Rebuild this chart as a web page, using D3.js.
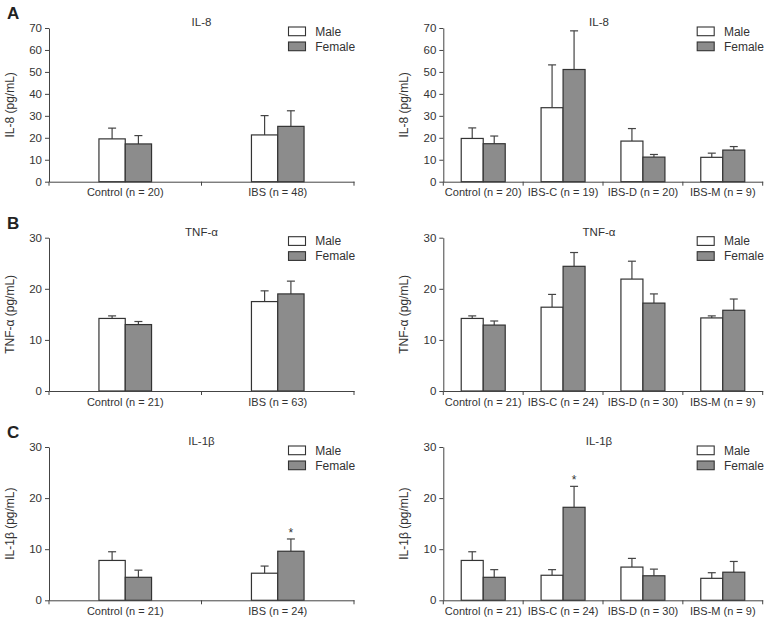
<!DOCTYPE html>
<html>
<head>
<meta charset="utf-8">
<script src="https://cdn.jsdelivr.net/npm/d3@7"></script>
<style>
body { margin: 0; background: #fff; }
svg text { font-family: "Liberation Sans", Arial, Helvetica, sans-serif; fill: #333; }
</style>
</head>
<body>
<div id="chart"></div>
<script>

// ---- data (mean and SEM) ----
var sexes = ["Male", "Female"];

// groups
var groupsIL8Left = ["Control (n = 20)", "IBS (n = 48)"];
var groupsIL8Right = ["Control (n = 20)", "IBS-C (n = 19)", "IBS-D (n = 20)", "IBS-M (n = 9)"];
var groupsTNFLeft = ["Control (n = 21)", "IBS (n = 63)"];
var groupsTNFRight = ["Control (n = 21)", "IBS-C (n = 24)", "IBS-D (n = 30)", "IBS-M (n = 9)"];
var groupsIL1Left = ["Control (n = 21)", "IBS (n = 24)"];
var groupsIL1Right = ["Control (n = 21)", "IBS-C (n = 24)", "IBS-D (n = 30)", "IBS-M (n = 9)"];

// A - IL-8
var il8MaleLeft = [19.5, 21.3];
var il8MaleLeftSem = [4.9, 8.8];
var il8FemaleLeft = [17.2, 25.2];
var il8FemaleLeftSem = [3.8, 7.1];

var il8MaleRight = [19.7, 33.7, 18.5, 11.1];
var il8MaleRightSem = [4.8, 19.5, 5.7, 1.9];
var il8FemaleRight = [17.3, 51.1, 11.2, 14.4];
var il8FemaleRightSem = [3.5, 17.6, 1.2, 1.6];

// B - TNF-alpha
var tnfMaleLeft = [14.2, 17.5];
var tnfMaleLeftSem = [0.5, 2.1];
var tnfFemaleLeft = [13.0, 19.0];
var tnfFemaleLeftSem = [0.6, 2.5];

var tnfMaleRight = [14.2, 16.4, 21.9, 14.3];
var tnfMaleRightSem = [0.5, 2.5, 3.5, 0.4];
var tnfFemaleRight = [12.9, 24.4, 17.2, 15.8];
var tnfFemaleRightSem = [0.8, 2.7, 1.8, 2.2];

// C - IL-1beta
var il1MaleLeft = [7.8, 5.3];
var il1MaleLeftSem = [1.7, 1.4];
var il1FemaleLeft = [4.5, 9.6];
var il1FemaleLeftSem = [1.4, 2.4];
var il1SigLeft = [null, "Female"];

var il1MaleRight = [7.8, 4.9, 6.5, 4.3];
var il1MaleRightSem = [1.7, 1.1, 1.7, 1.1];
var il1FemaleRight = [4.5, 18.2, 4.8, 5.5];
var il1FemaleRightSem = [1.5, 4.1, 1.3, 2.1];
var il1SigRight = [null, "Female", null, null];

var ticksIL8 = [0, 10, 20, 30, 40, 50, 60, 70];
var ticks30 = [0, 10, 20, 30];

function rows(groups, m, ms, f, fs, sig) {
	return groups.map(function(g, i) {
		return {
			group: g,
			values: [
				{sex: "Male", mean: m[i], sem: ms[i], star: sig && sig[i] === "Male"},
				{sex: "Female", mean: f[i], sem: fs[i], star: sig && sig[i] === "Female"}
			]
		};
	});
}

var svg = d3.select("#chart")
	.append("svg")
	.attr("width", 770)
	.attr("height", 626);

var leftX = [49, 354], rightX = [443.3, 762.7];

var panels = [
	{letter: "A", title: "IL-8", ylab: "IL-8 (pg/mL)", yMax: 70, ticks: ticksIL8, xr: leftX, top: 28, bottom: 181.7, barW: 26.3,
		data: rows(groupsIL8Left, il8MaleLeft, il8MaleLeftSem, il8FemaleLeft, il8FemaleLeftSem)},
	{title: "IL-8", ylab: "IL-8 (pg/mL)", yMax: 70, ticks: ticksIL8, xr: rightX, top: 28, bottom: 181.7, barW: 22,
		data: rows(groupsIL8Right, il8MaleRight, il8MaleRightSem, il8FemaleRight, il8FemaleRightSem)},
	{letter: "B", title: "TNF-\u03b1", ylab: "TNF-\u03b1 (pg/mL)", yMax: 30, ticks: ticks30, xr: leftX, top: 237.7, bottom: 391, barW: 26.3,
		data: rows(groupsTNFLeft, tnfMaleLeft, tnfMaleLeftSem, tnfFemaleLeft, tnfFemaleLeftSem)},
	{title: "TNF-\u03b1", ylab: "TNF-\u03b1 (pg/mL)", yMax: 30, ticks: ticks30, xr: rightX, top: 237.7, bottom: 391, barW: 22,
		data: rows(groupsTNFRight, tnfMaleRight, tnfMaleRightSem, tnfFemaleRight, tnfFemaleRightSem)},
	{letter: "C", title: "IL-1\u03b2", ylab: "IL-1\u03b2 (pg/mL)", yMax: 30, ticks: ticks30, xr: leftX, top: 447, bottom: 600.3, barW: 26.3,
		data: rows(groupsIL1Left, il1MaleLeft, il1MaleLeftSem, il1FemaleLeft, il1FemaleLeftSem, il1SigLeft)},
	{title: "IL-1\u03b2", ylab: "IL-1\u03b2 (pg/mL)", yMax: 30, ticks: ticks30, xr: rightX, top: 447, bottom: 600.3, barW: 22,
		data: rows(groupsIL1Right, il1MaleRight, il1MaleRightSem, il1FemaleRight, il1FemaleRightSem, il1SigRight)}
];

var fill = {Male: "#ffffff", Female: "#8c8c8c"};

panels.forEach(drawPanel);

function drawPanel(p) {
	var g = svg.append("g");

	var x0 = d3.scaleBand()
		.domain(p.data.map(function(d) { return d.group; }))
		.range(p.xr);

	var x1 = d3.scaleBand()
		.domain(sexes)
		.range([0, x0.bandwidth()])
		.paddingOuter((x0.bandwidth() / p.barW - 2) / 2);

	var y = d3.scaleLinear()
		.domain([0, p.yMax])
		.range([p.bottom, p.top]);

	// bars
	var grp = g.selectAll(".grp")
			.data(p.data)
		.enter()
			.append("g")
			.attr("transform", function(d) { return "translate(" + x0(d.group) + ",0)"; });

	var cell = grp.selectAll(".cell")
			.data(function(d) { return d.values; })
		.enter()
			.append("g");

	// error bars (upper only)
	cell.append("line")
		.attr("x1", function(d) { return x1(d.sex) + x1.bandwidth() / 2; })
		.attr("x2", function(d) { return x1(d.sex) + x1.bandwidth() / 2; })
		.attr("y1", function(d) { return y(d.mean); })
		.attr("y2", function(d) { return y(d.mean + d.sem); })
		.attr("stroke", "#444")
		.attr("stroke-width", 1.2);

	cell.append("line")
		.attr("x1", function(d) { return x1(d.sex) + x1.bandwidth() / 2 - 4; })
		.attr("x2", function(d) { return x1(d.sex) + x1.bandwidth() / 2 + 4; })
		.attr("y1", function(d) { return y(d.mean + d.sem); })
		.attr("y2", function(d) { return y(d.mean + d.sem); })
		.attr("stroke", "#444")
		.attr("stroke-width", 1.2);

	cell.append("rect")
		.attr("x", function(d) { return x1(d.sex); })
		.attr("y", function(d) { return y(d.mean); })
		.attr("width", x1.bandwidth())
		.attr("height", function(d) { return y(0) - y(d.mean); })
		.attr("fill", function(d) { return fill[d.sex]; })
		.attr("stroke", "#333")
		.attr("stroke-width", 1.2);

	cell.filter(function(d) { return d.star; })
		.append("text")
		.attr("x", function(d) { return x1(d.sex) + x1.bandwidth() / 2; })
		.attr("y", function(d) { return y(d.mean + d.sem) - 2; })
		.attr("text-anchor", "middle")
		.style("font-size", "12px")
		.text("*");

	// y axis
	var yAxis = g.append("g")
		.attr("transform", "translate(" + p.xr[0] + ",0)")
		.call(d3.axisLeft(y).tickValues(p.ticks).tickSize(4).tickPadding(3).tickSizeOuter(0));
	yAxis.selectAll("text").style("font-size", "11.5px").style("fill", "#333");
	yAxis.selectAll("line, path").attr("stroke", "#444");

	// x axis, ticks at the group boundaries
	var xAxis = g.append("g")
		.attr("transform", "translate(0," + p.bottom + ")")
		.call(d3.axisBottom(x0).tickSize(0).tickPadding(7).tickSizeOuter(0));
	xAxis.selectAll("text").style("font-size", "11px").style("fill", "#333");
	xAxis.select("path").attr("stroke", "#444");

	var bounds = x0.domain().map(function(d) { return x0(d); }).concat([p.xr[1]]);
	xAxis.selectAll(".bound")
			.data(bounds)
		.enter()
			.append("line")
			.attr("x1", function(d) { return d; })
			.attr("x2", function(d) { return d; })
			.attr("y1", 0)
			.attr("y2", 4)
			.attr("stroke", "#444");

	// y label
	g.append("text")
		.attr("transform", "translate(" + (p.xr[0] - 35) + "," + ((p.top + p.bottom) / 2) + ") rotate(-90)")
		.attr("text-anchor", "middle")
		.style("font-size", "12px")
		.text(p.ylab);

	// title
	g.append("text")
		.attr("x", (p.xr[0] + p.xr[1]) / 2 - (p.letter ? 0 : 4))
		.attr("y", p.top - 2)
		.attr("text-anchor", "middle")
		.style("font-size", "11.5px")
		.text(p.title);

	// panel letter
	if (p.letter) {
		g.append("text")
			.attr("x", 7)
			.attr("y", p.top - 9)
			.style("font-size", "17px")
			.style("font-weight", "bold")
			.style("fill", "#222")
			.text(p.letter);
	}

	// legend
	var lx = p.xr[1] - 65.5;
	var leg = g.selectAll(".leg")
			.data(sexes)
		.enter()
			.append("g")
			.attr("transform", function(d, i) { return "translate(" + lx + "," + (p.top - 1 + i * 15) + ")"; });

	leg.append("rect")
		.attr("width", 17)
		.attr("height", 8.7)
		.attr("fill", function(d) { return fill[d]; })
		.attr("stroke", "#333")
		.attr("stroke-width", 1.1);

	leg.append("text")
		.attr("x", 26.7)
		.attr("y", 8.7)
		.style("font-size", "12px")
		.text(function(d) { return d; });
}

</script>
</body>
</html>
